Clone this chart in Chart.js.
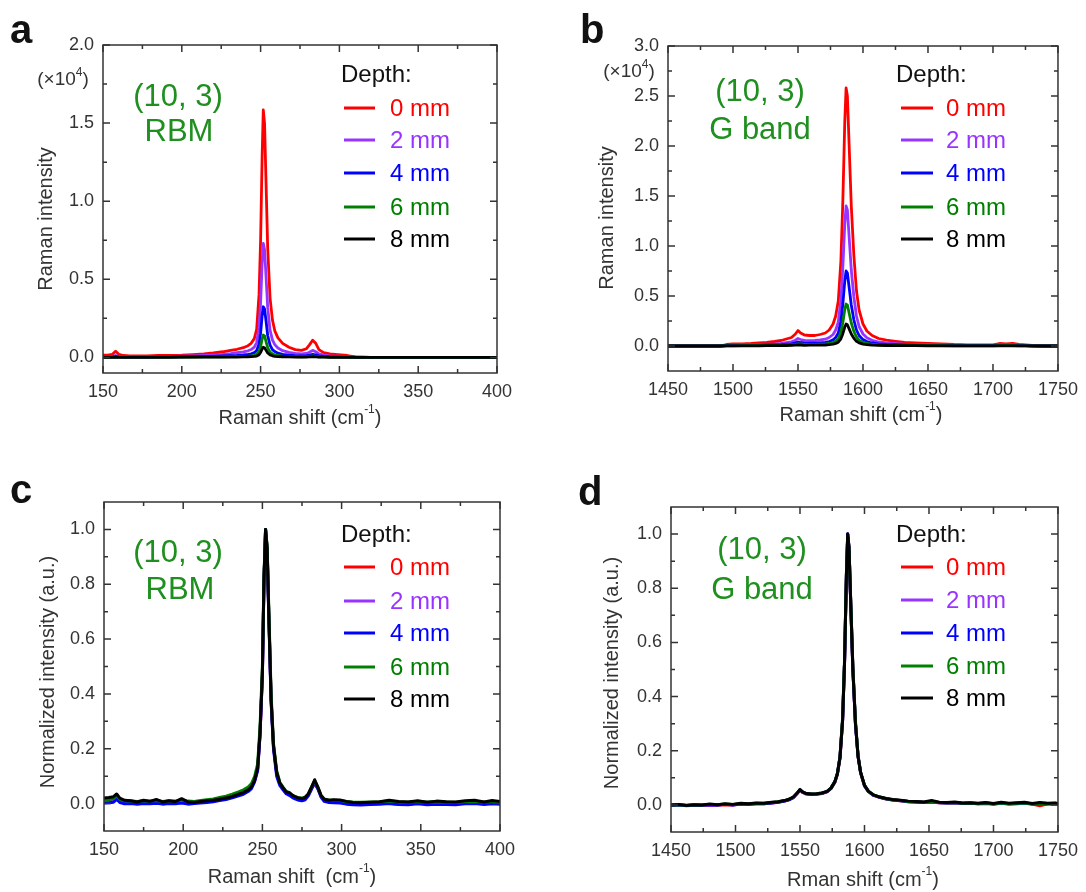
<!DOCTYPE html>
<html>
<head>
<meta charset="utf-8">
<script src="https://cdn.jsdelivr.net/npm/chart.js@4.4.0/dist/chart.umd.min.js"></script>
<style>
  html, body { margin: 0; padding: 0; background: #fff; }
  #page { position: relative; width: 1086px; height: 892px; overflow: hidden; }
  canvas { position: absolute; }
</style>
</head>
<body>
<div id="page">
  <canvas id="chartA" width="543" height="446" style="left:0;top:0"></canvas>
  <canvas id="chartB" width="543" height="446" style="left:543px;top:0"></canvas>
  <canvas id="chartC" width="543" height="446" style="left:0;top:446px"></canvas>
  <canvas id="chartD" width="543" height="446" style="left:543px;top:446px"></canvas>
</div>
<script>
const FONT = '"Liberation Sans", Arial, sans-serif';
const depthLabels = ['0 mm', '2 mm', '4 mm', '6 mm', '8 mm'];
const depthColors = ['#ff0000', '#9933ff', '#0000ff', '#008000', '#000000'];
const noteGreen = '#1f8f1f';

// axis ticks
const rbmTicks = [150, 200, 250, 300, 350, 400];
const gTicks = [1450, 1500, 1550, 1600, 1650, 1700, 1750];
const rbmRawTicks = [0, 0.5, 1.0, 1.5, 2.0];
const gRawTicks = [0, 0.5, 1.0, 1.5, 2.0, 2.5, 3.0];
const normTicks = [0, 0.2, 0.4, 0.6, 0.8, 1.0];

// (a) RBM raw intensity, x10^4
const rbmShift = [150,153,156,158,160,163,167,172,178,185,192,200,207,214,220,226,231,235,239,242,244,246,247.5,249,250,251,251.7,252.5,253.5,254.5,256,257.5,259,261,264,268,272,276,279,281,283,285,287,290,294,299,305,310,320,335,350,365,380,400];
const rbm0 = [0.015,0.015,0.02,0.04,0.02,0.012,0.01,0.01,0.01,0.012,0.012,0.014,0.018,0.022,0.028,0.036,0.045,0.052,0.062,0.075,0.09,0.12,0.18,0.4,0.75,1.3,1.585,1.5,1.1,0.7,0.38,0.24,0.17,0.125,0.09,0.065,0.05,0.045,0.055,0.08,0.11,0.09,0.05,0.03,0.022,0.018,0.012,0.003,0,0,0,0,0,0];
const rbm2 = [0.005,0.005,0.006,0.012,0.006,0.005,0.005,0.005,0.005,0.006,0.007,0.008,0.01,0.012,0.015,0.019,0.024,0.03,0.035,0.042,0.05,0.066,0.095,0.19,0.35,0.61,0.73,0.69,0.51,0.32,0.175,0.112,0.082,0.06,0.043,0.032,0.025,0.022,0.025,0.033,0.045,0.036,0.022,0.014,0.01,0.008,0.005,0.002,0,0,0,0,0,0];
const rbm4 = [0.002,0.002,0.003,0.005,0.003,0.002,0.002,0.002,0.002,0.003,0.003,0.004,0.005,0.006,0.007,0.009,0.011,0.013,0.016,0.019,0.023,0.03,0.044,0.085,0.155,0.27,0.324,0.31,0.23,0.14,0.078,0.05,0.037,0.027,0.019,0.014,0.011,0.01,0.011,0.015,0.02,0.016,0.01,0.006,0.004,0.003,0.002,0.001,0,0,0,0,0,0];
const rbm6 = [0.001,0.001,0.001,0.002,0.001,0.001,0.001,0.001,0.001,0.001,0.001,0.002,0.002,0.003,0.003,0.004,0.005,0.006,0.007,0.008,0.01,0.013,0.019,0.037,0.068,0.12,0.143,0.137,0.1,0.062,0.034,0.022,0.016,0.012,0.008,0.006,0.005,0.004,0.005,0.007,0.009,0.007,0.004,0.003,0.002,0.001,0.001,0,0,0,0,0,0,0];
const rbm8 = [0,0,0,0.001,0,0,0,0,0,0,0,0.001,0.001,0.001,0.001,0.002,0.002,0.002,0.003,0.004,0.005,0.006,0.008,0.017,0.031,0.054,0.065,0.062,0.045,0.028,0.016,0.01,0.007,0.005,0.004,0.003,0.002,0.002,0.002,0.003,0.004,0.003,0.002,0.001,0,0,0,0,0,0,0,0,0,0];

// (b) G band raw intensity, x10^4
const gShift = [1450,1460,1470,1480,1490,1495,1500,1507,1514,1520,1526,1532,1537,1541,1545,1548,1550,1552,1555,1559,1563,1567,1571,1574,1577,1579,1581,1583,1584.5,1586,1587,1588,1589.5,1591,1593,1595,1597,1600,1603,1607,1612,1618,1625,1632,1640,1650,1660,1670,1680,1690,1700,1705,1710,1715,1720,1725,1730,1740,1750];
const g0 = [0,0,0,0,0,0.015,0.02,0.022,0.025,0.03,0.035,0.045,0.055,0.07,0.085,0.12,0.155,0.13,0.11,0.105,0.105,0.115,0.13,0.16,0.22,0.3,0.45,0.85,1.45,2.25,2.58,2.5,1.95,1.4,0.9,0.55,0.36,0.22,0.15,0.105,0.075,0.058,0.046,0.036,0.03,0.025,0.022,0.015,0.012,0.01,0.012,0.025,0.02,0.025,0.015,0.01,0.005,0,0];
const g2 = [0,0,0,0,0,0.005,0.008,0.01,0.012,0.015,0.018,0.022,0.027,0.034,0.042,0.058,0.075,0.065,0.056,0.054,0.055,0.06,0.068,0.085,0.115,0.16,0.24,0.46,0.79,1.22,1.4,1.36,1.06,0.76,0.49,0.3,0.195,0.12,0.082,0.057,0.04,0.031,0.024,0.019,0.016,0.013,0.011,0.008,0.006,0.005,0.006,0.012,0.01,0.012,0.008,0.005,0.002,0,0];
const g4 = [0,0,0,0,0,0.003,0.004,0.005,0.006,0.008,0.01,0.012,0.014,0.018,0.022,0.031,0.04,0.035,0.03,0.029,0.029,0.032,0.036,0.045,0.061,0.085,0.13,0.245,0.42,0.65,0.75,0.73,0.57,0.41,0.26,0.16,0.105,0.064,0.044,0.03,0.021,0.016,0.013,0.01,0.008,0.007,0.006,0.004,0.003,0.003,0.003,0.006,0.005,0.006,0.004,0.003,0.001,0,0];
const g6 = [0,0,0,0,0,0.002,0.002,0.003,0.003,0.004,0.005,0.007,0.008,0.01,0.012,0.017,0.022,0.02,0.017,0.016,0.016,0.018,0.02,0.025,0.034,0.048,0.073,0.137,0.235,0.365,0.42,0.41,0.32,0.23,0.146,0.09,0.059,0.036,0.025,0.017,0.012,0.009,0.007,0.006,0.005,0.004,0.003,0.002,0.002,0.002,0.002,0.003,0.003,0.003,0.002,0.002,0.001,0,0];
const g8 = [0,0,0,0,0,0.001,0.001,0.001,0.002,0.002,0.003,0.003,0.004,0.005,0.006,0.009,0.011,0.01,0.006,0.009,0.008,0.009,0.01,0.013,0.018,0.025,0.038,0.072,0.123,0.19,0.22,0.213,0.166,0.12,0.077,0.047,0.031,0.019,0.013,0.009,0.006,0.005,0.004,0.003,0.003,0.002,0.002,0.001,0.001,0.001,0.001,0.002,0.001,0.002,0.001,0.001,0,0,0];

// (c) RBM normalized
const rbmNormShift = [150,153,156,158,160,163,167,171,175,179,183,187,191,195,199,203,207,211,215,219,223,227,231,235,238,241,243,245,247,248.5,250,251,252,253,254,255.5,257,259,261,263,265,267,269,271,273,275,277,279,281,283,285,287,289,292,295,299,303,307,312,318,324,330,336,342,348,354,360,366,372,378,384,390,395,400];
const rbmNorm0 = [0.01,0.01,0.012,0.025,0.012,0.006,0.004,0.003,0.004,0.003,0.005,0.004,0.005,0.004,0.006,0.004,0.005,0.007,0.009,0.012,0.016,0.02,0.026,0.033,0.039,0.048,0.058,0.08,0.125,0.25,0.47,0.81,1.0,0.93,0.7,0.38,0.21,0.11,0.072,0.055,0.042,0.036,0.028,0.022,0.019,0.018,0.021,0.033,0.057,0.07,0.056,0.028,0.014,0.01,0.009,0.008,0.005,0.002,0.0,0.0,0.001,0.0,-0.002,0.0,0.001,0.0,0.001,0.0,0.0,0.001,0.0,0.002,0.0,0.001];
const rbmNorm2 = [0.008,0.009,0.011,0.02,0.01,0.005,0.004,0.003,0.005,0.004,0.004,0.003,0.005,0.004,0.005,0.004,0.006,0.007,0.01,0.013,0.016,0.021,0.027,0.034,0.04,0.049,0.059,0.082,0.127,0.255,0.47,0.82,1.0,0.93,0.7,0.38,0.21,0.11,0.073,0.056,0.041,0.036,0.028,0.021,0.018,0.017,0.02,0.032,0.056,0.072,0.055,0.027,0.013,0.009,0.008,0.007,0.004,0.002,0.001,0.0,0.0,0.001,0.0,0.0,0.0,0.001,0.0,0.0,0.001,0.0,0.0,0.001,0.0,0.0];
const rbmNorm4 = [0.002,0.003,0.005,0.015,0.004,-0.001,0.0,-0.002,0.0,-0.001,0.001,-0.002,0.0,-0.001,0.002,-0.002,0.0,0.002,0.004,0.007,0.011,0.015,0.021,0.028,0.034,0.044,0.054,0.078,0.12,0.25,0.47,0.81,1.0,0.92,0.69,0.37,0.2,0.1,0.066,0.05,0.036,0.03,0.022,0.016,0.012,0.01,0.014,0.028,0.052,0.08,0.054,0.024,0.008,0.004,0.003,0.002,-0.002,-0.004,-0.005,-0.003,-0.002,0.0,-0.003,-0.004,-0.001,-0.004,-0.002,-0.003,-0.004,-0.001,0.0,-0.003,-0.001,-0.002];
const rbmNorm6 = [0.012,0.014,0.018,0.03,0.016,0.01,0.009,0.008,0.01,0.009,0.011,0.008,0.01,0.009,0.012,0.009,0.008,0.011,0.014,0.017,0.022,0.027,0.034,0.043,0.05,0.06,0.072,0.097,0.145,0.28,0.5,0.83,1.0,0.94,0.72,0.4,0.22,0.12,0.078,0.06,0.045,0.04,0.031,0.025,0.021,0.02,0.024,0.036,0.06,0.084,0.06,0.031,0.017,0.013,0.012,0.011,0.008,0.006,0.005,0.006,0.007,0.009,0.007,0.006,0.008,0.006,0.007,0.006,0.005,0.007,0.008,0.006,0.008,0.006];
const rbmNorm8 = [0.02,0.022,0.025,0.035,0.02,0.012,0.01,0.006,0.012,0.008,0.015,0.006,0.01,0.007,0.018,0.006,0.004,0.008,0.01,0.012,0.016,0.02,0.026,0.034,0.04,0.05,0.06,0.085,0.13,0.26,0.48,0.82,1.0,0.93,0.7,0.38,0.21,0.115,0.075,0.058,0.042,0.04,0.03,0.024,0.02,0.018,0.022,0.035,0.06,0.087,0.06,0.03,0.016,0.012,0.014,0.013,0.008,0.004,0.003,0.005,0.007,0.012,0.008,0.006,0.01,0.005,0.009,0.007,0.006,0.01,0.012,0.006,0.011,0.008];

// (d) G band normalized
const gNormShift = [1450,1456,1462,1468,1474,1480,1486,1492,1498,1504,1510,1516,1522,1528,1533,1538,1542,1545,1548,1550,1552,1555,1559,1563,1567,1571,1574,1577,1579,1581,1583,1584.5,1586,1587,1588,1589.5,1591,1593,1595,1597,1600,1603,1607,1612,1617,1622,1628,1634,1640,1646,1652,1658,1664,1670,1676,1682,1688,1694,1700,1706,1712,1718,1724,1730,1736,1742,1748,1750];
const gNorm0 = [-0.002,0.0,-0.003,-0.001,-0.002,0.0,-0.001,0.001,0.0,0.003,0.002,0.004,0.004,0.007,0.01,0.014,0.02,0.027,0.043,0.055,0.046,0.04,0.038,0.039,0.042,0.048,0.06,0.083,0.113,0.172,0.31,0.52,0.85,1.0,0.95,0.72,0.5,0.3,0.18,0.118,0.07,0.049,0.035,0.027,0.022,0.018,0.015,0.012,0.011,0.009,0.01,0.008,0.007,0.008,0.005,0.006,0.004,0.006,0.003,0.006,0.004,0.005,0.007,0.003,-0.003,0.004,0.005,0.003];
const gNorm2 = [-0.001,0.001,-0.002,0.0,-0.001,0.001,0.0,0.002,0.001,0.004,0.003,0.005,0.005,0.008,0.011,0.015,0.021,0.028,0.044,0.056,0.047,0.041,0.039,0.04,0.043,0.049,0.061,0.084,0.114,0.174,0.31,0.52,0.85,1.0,0.95,0.72,0.5,0.3,0.18,0.119,0.071,0.05,0.036,0.028,0.023,0.019,0.016,0.013,0.012,0.01,0.011,0.009,0.008,0.009,0.006,0.007,0.005,0.007,0.004,0.007,0.005,0.006,0.007,0.004,0.006,0.005,0.006,0.004];
const gNorm4 = [-0.001,0.0,-0.002,0.0,-0.001,0.001,0.0,0.002,0.0,0.003,0.002,0.004,0.004,0.007,0.01,0.014,0.02,0.028,0.044,0.056,0.047,0.041,0.039,0.04,0.043,0.049,0.062,0.086,0.116,0.176,0.31,0.52,0.85,1.0,0.95,0.72,0.5,0.3,0.181,0.12,0.072,0.05,0.036,0.028,0.022,0.018,0.015,0.012,0.011,0.009,0.012,0.008,0.007,0.008,0.005,0.006,0.004,0.005,0.003,0.006,0.003,0.004,0.006,0.003,0.005,0.003,0.004,0.002];
const gNorm6 = [0.0,0.001,-0.001,0.001,0.0,0.002,0.001,0.003,0.002,0.005,0.004,0.006,0.006,0.009,0.012,0.016,0.022,0.029,0.045,0.056,0.048,0.042,0.04,0.041,0.044,0.05,0.062,0.086,0.116,0.178,0.32,0.53,0.86,0.99,0.95,0.73,0.51,0.31,0.183,0.12,0.072,0.051,0.037,0.029,0.023,0.019,0.016,0.013,0.012,0.01,0.012,0.009,0.008,0.009,0.006,0.007,0.005,0.007,0.004,0.007,0.004,0.006,0.007,0.004,0.006,0.005,0.005,0.004];
const gNorm8 = [0.0,0.002,-0.002,0.001,0.0,0.003,0.001,0.004,0.002,0.006,0.004,0.007,0.006,0.01,0.012,0.016,0.022,0.03,0.045,0.057,0.048,0.042,0.04,0.041,0.044,0.05,0.062,0.085,0.115,0.175,0.31,0.52,0.85,1.0,0.95,0.72,0.5,0.3,0.18,0.12,0.072,0.051,0.037,0.029,0.024,0.02,0.017,0.014,0.013,0.011,0.016,0.01,0.009,0.011,0.007,0.008,0.006,0.009,0.005,0.01,0.006,0.008,0.01,0.005,0.009,0.006,0.007,0.005];

const rawTitle = (text) => [{ text, size: 20 }, { text: '-1', size: 12, dy: -8 }, { text: ')', size: 20 }];

const panels = [
    {
        id: 'chartA', letter: 'a', letterAt: [10, 43],
        area: { left: 103, right: 497, top: 45, bottom: 373 },
        x: { min: 150, max: 400, ticks: rbmTicks }, y: { min: -0.1, max: 2.0, ticks: rbmRawTicks },
        shift: rbmShift, series: [rbm0, rbm2, rbm4, rbm6, rbm8], lineWidth: 2.8,
        notes: ['(10, 3)', 'RBM'], noteAt: [[178, 97], [179, 132]], scaleNoteAt: [63, 80],
        depthAt: [341, 75], legendX: [344, 375, 390], legendY: [108, 140, 173, 207, 239],
        yTitle: 'Raman intensity', yTitleAt: [46, 219],
        xTitle: rawTitle('Raman shift (cm'), xTitleAt: [300, 418]
    },
    {
        id: 'chartB', letter: 'b', letterAt: [37, 43],
        area: { left: 125, right: 515, top: 46, bottom: 371 },
        x: { min: 1450, max: 1750, ticks: gTicks }, y: { min: -0.25, max: 3.0, ticks: gRawTicks },
        shift: gShift, series: [g0, g2, g4, g6, g8], lineWidth: 2.8,
        notes: ['(10, 3)', 'G band'], noteAt: [[217, 92], [217, 130]], scaleNoteAt: [86, 72],
        depthAt: [353, 75], legendX: [358, 390, 403], legendY: [108, 140, 173, 207, 239],
        yTitle: 'Raman intensity', yTitleAt: [64, 218],
        xTitle: rawTitle('Raman shift (cm'), xTitleAt: [318, 415]
    },
    {
        id: 'chartC', letter: 'c', letterAt: [10, 57],
        area: { left: 104, right: 500, top: 56, bottom: 385 },
        x: { min: 150, max: 400, ticks: rbmTicks }, y: { min: -0.1, max: 1.1, ticks: normTicks },
        shift: rbmNormShift, series: [rbmNorm0, rbmNorm2, rbmNorm4, rbmNorm6, rbmNorm8], lineWidth: 3,
        notes: ['(10, 3)', 'RBM'], noteAt: [[178, 107], [180, 144]], scaleNoteAt: null,
        depthAt: [341, 89], legendX: [344, 375, 390], legendY: [121, 155, 187, 221, 253],
        yTitle: 'Normalized intensity (a.u.)', yTitleAt: [48, 226],
        xTitle: rawTitle('Raman shift  (cm'), xTitleAt: [292, 431]
    },
    {
        id: 'chartD', letter: 'd', letterAt: [35, 59],
        area: { left: 128, right: 518, top: 61, bottom: 386 },
        x: { min: 1450, max: 1750, ticks: gTicks }, y: { min: -0.1, max: 1.1, ticks: normTicks },
        shift: gNormShift, series: [gNorm0, gNorm2, gNorm4, gNorm6, gNorm8], lineWidth: 3,
        notes: ['(10, 3)', 'G band'], noteAt: [[219, 104], [219, 144]], scaleNoteAt: null,
        depthAt: [353, 89], legendX: [358, 390, 403], legendY: [121, 154, 187, 220, 252],
        yTitle: 'Normalized intensity (a.u.)', yTitleAt: [69, 227],
        xTitle: rawTitle('Rman shift (cm'), xTitleAt: [320, 434]
    }
];

// majors plus the midpoints between them
function withMinor(ticks) {
    const out = [];
    ticks.forEach((v, i) => {
        out.push([v, true]);
        if (i < ticks.length - 1) out.push([(v + ticks[i + 1]) / 2, false]);
    });
    return out;
}

function drawParts(ctx, parts, cx, cy) {
    let total = 0;
    parts.forEach(pt => {
        ctx.font = `${pt.size}px ${FONT}`;
        pt.w = ctx.measureText(pt.text).width;
        total += pt.w;
    });
    let x = cx - total / 2;
    ctx.textAlign = 'left';
    ctx.textBaseline = 'middle';
    parts.forEach(pt => {
        ctx.font = `${pt.size}px ${FONT}`;
        ctx.fillText(pt.text, x, cy + (pt.dy || 0));
        x += pt.w;
    });
}

const panelDecor = {
    id: 'panelDecor',
    afterDraw(chart, args, p) {
        const { ctx, chartArea: a, scales: { x, y } } = chart;
        ctx.save();

        // frame with inward ticks on all four sides
        ctx.strokeStyle = '#333';
        ctx.lineWidth = 1.5;
        ctx.strokeRect(a.left, a.top, a.right - a.left, a.bottom - a.top);
        ctx.beginPath();
        withMinor(p.x.ticks).forEach(([v, major]) => {
            const px = x.getPixelForValue(v);
            const len = major ? 7 : 4;
            ctx.moveTo(px, a.bottom); ctx.lineTo(px, a.bottom - len);
            ctx.moveTo(px, a.top); ctx.lineTo(px, a.top + len);
        });
        withMinor(p.y.ticks).forEach(([v, major]) => {
            const py = y.getPixelForValue(v);
            const len = major ? 7 : 4;
            ctx.moveTo(a.left, py); ctx.lineTo(a.left + len, py);
            ctx.moveTo(a.right, py); ctx.lineTo(a.right - len, py);
        });
        ctx.stroke();

        // panel letter
        ctx.fillStyle = '#111';
        ctx.font = `bold 40px ${FONT}`;
        ctx.textAlign = 'left';
        ctx.textBaseline = 'alphabetic';
        ctx.fillText(p.letter, p.letterAt[0], p.letterAt[1]);

        // axis titles
        ctx.fillStyle = '#333';
        drawParts(ctx, p.xTitle, p.xTitleAt[0], p.xTitleAt[1]);
        ctx.save();
        ctx.translate(p.yTitleAt[0], p.yTitleAt[1]);
        ctx.rotate(-Math.PI / 2);
        drawParts(ctx, [{ text: p.yTitle, size: 20 }], 0, 0);
        ctx.restore();

        if (p.scaleNoteAt) {
            drawParts(ctx, [{ text: '(×10', size: 19 }, { text: '4', size: 12, dy: -7 }, { text: ')', size: 19 }],
                p.scaleNoteAt[0], p.scaleNoteAt[1]);
        }

        // green annotation
        ctx.fillStyle = noteGreen;
        p.notes.forEach((t, i) => drawParts(ctx, [{ text: t, size: 31 }], p.noteAt[i][0], p.noteAt[i][1]));

        // legend
        ctx.fillStyle = '#111';
        ctx.font = `24px ${FONT}`;
        ctx.textAlign = 'left';
        ctx.textBaseline = 'middle';
        ctx.fillText('Depth:', p.depthAt[0], p.depthAt[1]);
        ctx.lineWidth = 3;
        depthLabels.forEach((lab, i) => {
            const ly = p.legendY[i];
            ctx.strokeStyle = depthColors[i];
            ctx.beginPath();
            ctx.moveTo(p.legendX[0], ly);
            ctx.lineTo(p.legendX[1], ly);
            ctx.stroke();
            ctx.fillStyle = depthColors[i];
            ctx.fillText(lab, p.legendX[2], ly + 1);
        });
        ctx.restore();
    }
};

function buildChart(p) {
    const canvas = document.getElementById(p.id);
    const datasets = p.series.map((ys, i) => ({
        label: depthLabels[i],
        data: p.shift.map((sx, j) => ({ x: sx, y: ys[j] })),
        borderColor: depthColors[i],
        borderWidth: p.lineWidth,
        borderJoinStyle: 'round',
        borderCapStyle: 'round',
        pointRadius: 0,
        tension: 0,
        fill: false,
        order: p.series.length - 1 - i
    }));
    const tickFont = { family: FONT, size: 18 };

    return new Chart(canvas.getContext('2d'), {
        type: 'line',
        data: { datasets },
        plugins: [panelDecor],
        options: {
            responsive: false,
            animation: false,
            devicePixelRatio: 1,
            events: [],
            layout: { padding: { top: p.area.top, right: canvas.width - p.area.right, left: 0, bottom: 0 } },
            plugins: {
                legend: { display: false },
                tooltip: { enabled: false },
                panelDecor: p
            },
            scales: {
                x: {
                    type: 'linear', min: p.x.min, max: p.x.max,
                    grid: { display: false, drawTicks: false },
                    border: { display: false },
                    afterBuildTicks: s => { s.ticks = p.x.ticks.map(v => ({ value: v })); },
                    afterFit: s => { s.height = canvas.height - p.area.bottom; },
                    ticks: { color: '#333', font: tickFont, padding: 8, autoSkip: false, maxRotation: 0, callback: v => String(v) }
                },
                y: {
                    type: 'linear', min: p.y.min, max: p.y.max,
                    grid: { display: false, drawTicks: false },
                    border: { display: false },
                    afterBuildTicks: s => { s.ticks = p.y.ticks.map(v => ({ value: v })); },
                    afterFit: s => { s.width = p.area.left; },
                    ticks: { color: '#333', font: tickFont, padding: 9, autoSkip: false, callback: v => v.toFixed(1) }
                }
            }
        }
    });
}

panels.forEach(buildChart);
</script>
</body>
</html>
